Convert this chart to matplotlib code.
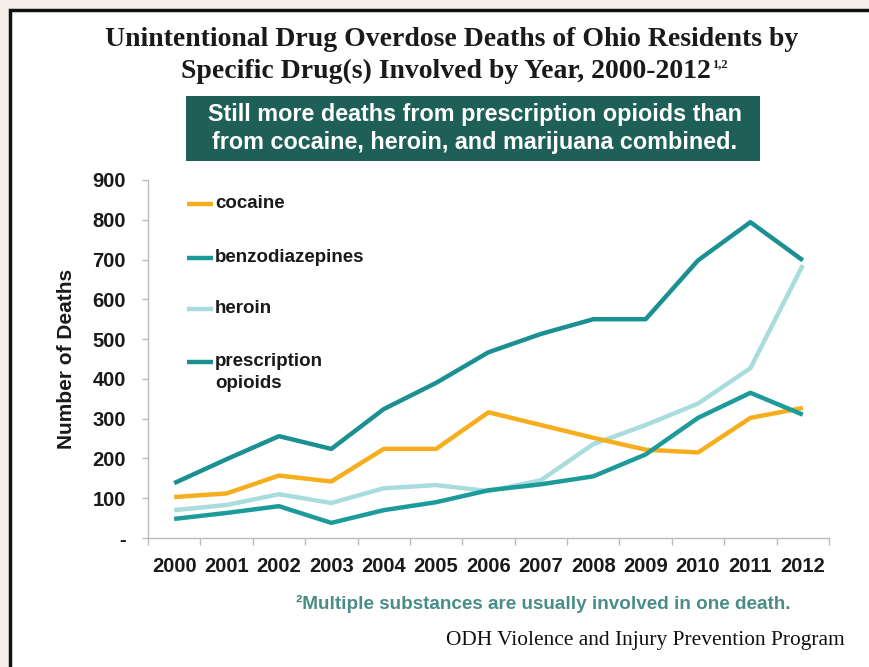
import matplotlib
matplotlib.use("Agg")
import matplotlib.pyplot as plt
from matplotlib.patches import Rectangle
import numpy as np

years = ["2000", "2001", "2002", "2003", "2004", "2005", "2006",
         "2007", "2008", "2009", "2010", "2011", "2012"]
cocaine = [103, 112, 157, 142, 224, 224, 316, 284, 252, 222, 215, 302, 327]
benzodiazepines = [48, 63, 80, 38, 70, 90, 120, 135, 155, 210, 302, 365, 310]
heroin = [70, 83, 110, 88, 125, 133, 118, 145, 236, 284, 338, 427, 686]
prescription_opioids = [138, 198, 256, 224, 324, 390, 467, 513, 550, 550, 698, 794, 698]
yticks = [0, 100, 200, 300, 400, 500, 600, 700, 800, 900]
ytick_labels = ["-", "100", "200", "300", "400", "500", "600", "700", "800", "900"]
series_names = ["cocaine", "benzodiazepines", "heroin", "prescription\nopioids"]

W, H = 870, 667
fig = plt.figure(figsize=(W / 100, H / 100), dpi=100)
fig.patch.set_facecolor("#f6eee8")

# white panel with dark border
panel = Rectangle((10 / W, -0.1), 1.1, 1.1 - 10 / H, transform=fig.transFigure,
                  facecolor="white", edgecolor="#111111", linewidth=2.5, zorder=-10)
fig.patches.append(panel)

ax = fig.add_axes([148 / W, 1 - 538 / H, (829 - 148) / W, (538 - 180) / H])
ax.set_facecolor("none")
ax.set_zorder(5)
x = np.arange(len(years))

c_coc = "#f7ae1c"
c_benzo = "#1d9a9a"
c_her = "#a9dcdc"
c_rx = "#1a9092"
colors = [c_coc, c_benzo, c_her, c_rx]

ax.plot(x, heroin, color=c_her, lw=3.2, solid_capstyle="butt", zorder=2)
ax.plot(x, cocaine, color=c_coc, lw=3.2, solid_capstyle="butt", zorder=3)
ax.plot(x, benzodiazepines, color=c_benzo, lw=3.2, solid_capstyle="butt", zorder=4)
ax.plot(x, prescription_opioids, color=c_rx, lw=3.2, solid_capstyle="butt", zorder=4)

ax.set_xlim(-0.5, len(years) - 0.5)
ax.set_ylim(0, 900)
ax.set_yticks(yticks)
ax.set_yticklabels(ytick_labels)
ax.set_xticks(x)
ax.set_xticklabels(years)
ax.set_xticks(np.arange(-0.5, len(years), 1.0), minor=True)
ax.tick_params(axis="x", which="major", length=0, pad=14)
ax.tick_params(axis="x", which="minor", length=5, width=1, color="#bbbbbb")
ax.tick_params(axis="y", length=4, width=1, color="#bbbbbb", pad=12)
for lab in ax.get_xticklabels() + ax.get_yticklabels():
    lab.set_fontweight("bold")
    lab.set_fontsize(14.5)
    lab.set_color("#1a1a1a")
    lab.set_family("Liberation Sans")

for s in ["top", "right"]:
    ax.spines[s].set_visible(False)
for s in ["left", "bottom"]:
    ax.spines[s].set_color("#bbbbbb")
    ax.spines[s].set_linewidth(1)

ax.set_ylabel("Number of Deaths", fontsize=15, fontweight="bold",
              family="Liberation Sans", color="#1a1a1a", labelpad=12)

# legend (manual, matching the original's layout)
leg_y = [204, 258, 309, 362]
for name, col, yy in zip(series_names, colors, leg_y):
    ya = (538 - yy) / 358
    ax.plot([(187 - 148) / 681, (213 - 148) / 681], [ya, ya], color=col, lw=3.2,
            solid_capstyle="butt", transform=ax.transAxes, clip_on=False)
    for i, part in enumerate(name.split("\n")):
        ax.text((215 - 148) / 681, ya - i * 22 / 358, part, transform=ax.transAxes,
                ha="left", va="center", fontsize=13.5, fontweight="bold",
                family="Liberation Sans", color="#1a1a1a")

# Title
fig.text(452 / W, 1 - 40 / H, "Unintentional Drug Overdose Deaths of Ohio Residents by",
         ha="center", va="center", fontsize=20, fontweight="bold",
         family="Liberation Serif", color="#1a1a1a")
t2 = fig.text(446 / W, 1 - 71 / H, "Specific Drug(s) Involved by Year, 2000-2012",
              ha="center", va="center", fontsize=20, fontweight="bold",
              family="Liberation Serif", color="#1a1a1a")
fig.canvas.draw()
bb = t2.get_window_extent()
fig.text((bb.x1 + 1) / W, 1 - 64 / H, "1,2", ha="left", va="center", fontsize=9,
         fontweight="bold", family="Liberation Serif", color="#1a1a1a")

# green box
box = Rectangle((186 / W, 1 - 161 / H), (760 - 186) / W, (161 - 96) / H,
                transform=fig.transFigure, facecolor="#1e5f58", edgecolor="none", zorder=-5)
fig.patches.append(box)
fig.text(475 / W, 1 - 115 / H, "Still more deaths from prescription opioids than",
         ha="center", va="center", fontsize=16.8, fontweight="bold",
         family="Liberation Sans", color="white")
fig.text(475 / W, 1 - 143 / H, "from cocaine, heroin, and marijuana combined.",
         ha="center", va="center", fontsize=16.8, fontweight="bold",
         family="Liberation Sans", color="white")

fig.text(543 / W, 1 - 604 / H, "²Multiple substances are usually involved in one death.",
         ha="center", va="center", fontsize=13.6, fontweight="bold",
         family="Liberation Sans", color="#4a8d88")
fig.text(845 / W, 1 - 640 / H, "ODH Violence and Injury Prevention Program",
         ha="right", va="center", fontsize=15.4, family="Liberation Serif",
         color="#111111")

fig.savefig("out.png", dpi=100, facecolor=fig.get_facecolor())
